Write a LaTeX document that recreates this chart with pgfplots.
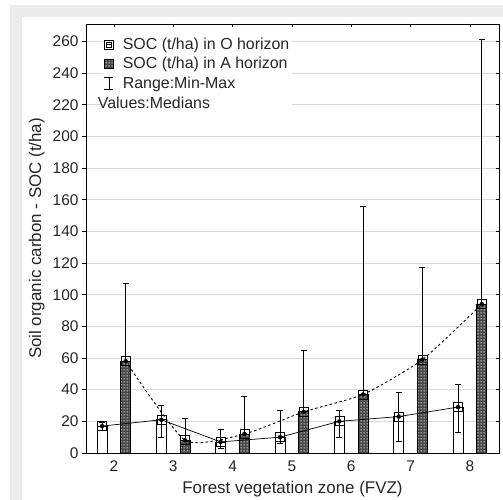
\documentclass[border=0pt]{standalone}
\usepackage{pgfplots}
\pgfplotsset{compat=1.18}
\usetikzlibrary{patterns}
\usepackage{fontspec}
\setmainfont{Liberation Sans}
\pgfdeclarepatternformonly{whitedots}{\pgfqpoint{0bp}{0bp}}{\pgfqpoint{2.5bp}{2.5bp}}{\pgfqpoint{2.5bp}{2.5bp}}{%
  \pgfpathrectangle{\pgfqpoint{0.6bp}{0.6bp}}{\pgfqpoint{1.3bp}{1.3bp}}%
  \pgfusepath{fill}}
\tikzset{meshfill/.style={fill=black!72, postaction={pattern=whitedots, pattern color=white}}}
\begin{document}
\begin{tikzpicture}
\useasboundingbox (0,0) rectangle (503bp,500bp);
\fill[black!8] (10bp,0) rectangle (503bp,495bp);
\fill[white] (22bp,0) rectangle (503bp,483bp);
\begin{axis}[
 at={(86bp,47bp)}, anchor=south west,
 scale only axis, width=413bp, height=429bp,
 xmin=1.53, xmax=8.49, ymin=0, ymax=271,
 xtick={2,...,8}, ytick={0,20,...,260},
 tick pos=left, tick align=outside, major tick length=4bp,
 xtick style={draw=none},
 ytick style={black, line width=0.6bp},
 ymajorgrids, grid style={black!15, line width=0.6bp},
 axis line style={line width=0.8bp},
 tick label style={font=\fontsize{15.5}{18}\selectfont, text=black!85},
 /pgf/number format/assume math mode=true,
 xlabel={Forest vegetation zone (FVZ)},
 ylabel={Soil organic carbon - SOC (t/ha)},
 label style={font=\fontsize{17}{20}\selectfont, text=black!85},
 xlabel style={at={(axis description cs:0.5,-0.084)}, anchor=center},
 ylabel style={at={(axis description cs:-0.119,0.5)}, anchor=center},
 legend style={at={(0.041,0.975)}, anchor=north west, draw=none, fill=white,
   font=\fontsize{16}{18}\selectfont, text=black!85, inner sep=1bp,
   row sep=2.5bp},
 legend cell align=left,
]
% legend entries
\addlegendimage{legend image code/.code={
  \draw[black, line width=0.6bp, fill=white] (0bp,-4.5bp) rectangle (9bp,4.5bp);
  \draw[black, line width=0.6bp] (2bp,-2.5bp) rectangle (6.5bp,2bp);
  \draw[black, line width=0.6bp] (2bp,0bp) -- (6.5bp,0bp);}}
\addlegendentry{\hspace{7bp}SOC (t/ha) in O horizon}
\addlegendimage{legend image code/.code={
  \draw[black, line width=0.6bp, meshfill] (0bp,-4.5bp) rectangle (9bp,4.5bp);}}
\addlegendentry{\hspace{7bp}SOC (t/ha) in A horizon}
\addlegendimage{legend image code/.code={
  \draw[black, line width=0.7bp] (4.5bp,-6bp) -- (4.5bp,6bp);
  \draw[black, line width=0.7bp] (0bp,6bp) -- (9bp,6bp);
  \draw[black, line width=0.7bp] (0bp,-6bp) -- (9bp,-6bp);}}
\addlegendentry{\hspace{7bp}Range:Min-Max}
\addlegendimage{empty legend}
\addlegendentry{\hspace{-18bp}Values:Medians}

% A horizon ranges (drawn behind the bars)
\addplot[only marks, mark=none, forget plot,
  error bars/.cd, y dir=both, y explicit, error mark=none,
  error bar style={black, solid, line width=0.8bp}]
 coordinates {
 (2.2,58) += (0,49) -= (0,38)
 (3.2,8) += (0,14) -= (0,4)
 (4.2,12) += (0,24) -= (0,7)
 (5.2,26) += (0,39) -= (0,18)
 (6.2,37) += (0,119) -= (0,23)
 (7.2,59) += (0,58) -= (0,27)
 (8.2,94) += (0,167) -= (0,39)
 };
\addplot[only marks, mark=-, mark size=3bp, mark options={black, solid, line width=0.9bp}, forget plot]
 coordinates {(2.2,107) (3.2,22) (4.2,36) (5.2,65) (6.2,156) (7.2,117) (8.2,261)};

% O horizon bars
\addplot[ybar, bar width=10bp, bar shift=0pt, draw=black, fill=white, line width=0.8bp, forget plot]
 coordinates {(1.8,17) (2.8,21) (3.8,7) (4.8,10) (5.8,20) (6.8,23) (7.8,29)};
% A horizon bars
\addplot[ybar, bar width=10bp, bar shift=0pt, draw=black, line width=0.8bp,
  meshfill, forget plot]
 coordinates {(2.2,58) (3.2,8) (4.2,12) (5.2,26) (6.2,37) (7.2,59) (8.2,94)};

% O horizon ranges (min-max)
\addplot[only marks, mark=none, forget plot,
  error bars/.cd, y dir=both, y explicit, error mark=none,
  error bar style={black, solid, line width=0.8bp}]
 coordinates {
 (1.8,17) += (0,2) -= (0,3)
 (2.8,21) += (0,9) -= (0,11)
 (3.8,7) += (0,8) -= (0,4)
 (4.8,10) += (0,17) -= (0,4)
 (5.8,20) += (0,7) -= (0,10)
 (6.8,23) += (0,15) -= (0,16)
 (7.8,29) += (0,14) -= (0,16)
 };
\addplot[only marks, mark=-, mark size=3bp, mark options={black, solid, line width=0.9bp}, forget plot]
 coordinates {
 (1.8,19) (1.8,14) (2.8,30) (2.8,10) (3.8,15) (3.8,3) (4.8,27) (4.8,6)
 (5.8,27) (5.8,10) (6.8,38) (6.8,7) (7.8,43) (7.8,13)};

% median lines
\addplot[black, line width=0.7bp, mark=square, mark size=4.5bp, mark options={solid, line width=0.7bp}, forget plot]
 coordinates {(1.8,17) (2.8,21) (3.8,7) (4.8,10) (5.8,20) (6.8,23) (7.8,29)};
\addplot[black, line width=0.9bp, dash pattern=on 2.5bp off 2.5bp, smooth, tension=0.35, mark=square, mark size=4.5bp, mark options={solid, line width=0.7bp}, forget plot]
 coordinates {(2.2,58) (3.2,8) (4.2,12) (5.2,26) (6.2,37) (7.2,59) (8.2,94)};
\end{axis}
\begin{axis}[
 at={(86bp,47bp)}, anchor=south west,
 scale only axis, width=413bp, height=429bp,
 xmin=1.53, xmax=8.49, ymin=0, ymax=271,
 xtick={2,...,8}, ytick={0,20,...,260},
 xtick pos=upper, ytick pos=upper, tick align=inside, major tick length=3bp,
 xticklabels={}, yticklabels={},
 tick style={black, line width=0.6bp},
 axis line style={draw=none},
]
\addplot[draw=none] coordinates {(2,0)};
\end{axis}
\end{tikzpicture}
\end{document}
